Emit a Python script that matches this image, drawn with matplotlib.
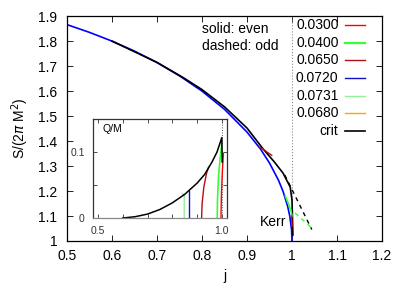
import matplotlib
matplotlib.use("Agg")
import matplotlib.pyplot as plt
import numpy as np

plt.rcParams['font.family'] = ['Liberation Sans', 'DejaVu Sans']

# main panel: S/(2 pi M^2) vs j
kerr_j = [0.5, 0.55, 0.6, 0.65, 0.7, 0.75, 0.8, 0.85, 0.9, 0.93, 0.95, 0.97, 0.98, 0.99, 0.995, 0.999, 1.0]
kerr_S = [1.866, 1.835, 1.800, 1.760, 1.714, 1.661, 1.600, 1.527, 1.436, 1.368, 1.312, 1.243, 1.199, 1.141, 1.100, 1.045, 1.0]

crit_j = [0.60, 0.70, 0.76, 0.80, 0.85, 0.90, 0.936, 0.96, 0.98, 0.996, 1.000, 1.002]
crit_S = [1.800, 1.715, 1.652, 1.606, 1.537, 1.452, 1.368, 1.318, 1.272, 1.216, 1.164, 1.024]

crit_odd_j = [0.984, 1.044]
crit_odd_S = [1.264, 1.046]

c065_j = [0.927, 0.935, 0.945, 0.955]
c065_S = [1.375, 1.369, 1.355, 1.343]

c040_j = [0.985, 0.992, 0.998, 1.0]
c040_S = [1.180, 1.150, 1.120, 1.100]
c040_odd_j = [1.007, 1.044]
c040_odd_S = [1.112, 1.052]

c030_j = [0.999, 1.0]
c030_S = [1.100, 1.060]

# inset: Q/M vs j
q_crit_j = [0.60, 0.65, 0.70, 0.75, 0.80, 0.85, 0.90, 0.93, 0.96, 0.98, 0.9995, 1.001]
q_crit_Q = [0.0, 0.002, 0.006, 0.013, 0.023, 0.036, 0.053, 0.066, 0.085, 0.100, 0.122, 0.085]
q_073_j = [0.848, 0.848, 0.840]
q_073_Q = [0.0, 0.035, 0.037]
q_072_j = [0.867, 0.867]
q_072_Q = [0.0, 0.041]
q_065_j = [0.918, 0.920, 0.927, 0.938, 0.946]
q_065_Q = [0.0, 0.022, 0.047, 0.068, 0.077]
q_040_j = [0.981, 0.982, 0.986, 0.993, 0.999]
q_040_Q = [0.0, 0.027, 0.062, 0.092, 0.112]
q_030_j = [0.996, 0.998, 1.002, 1.006]
q_030_Q = [0.0, 0.037, 0.073, 0.098]

labels = ['0.0300', '0.0400', '0.0650', '0.0720', '0.0731', '0.0680', 'crit']
colors = ['#ff0000', '#33ff33', '#b01010', '#1010c0', '#99ee99', '#ffa500', 'black']
widths = [1.0, 1.6, 1.0, 1.0, 1.0, 1.0, 1.2]

fig = plt.figure(figsize=(4.07, 2.85), dpi=100)
ax = fig.add_axes([0.1646, 0.1544, 0.774, 0.789])

ax.axvline(1.0, color='#888888', ls=':', lw=0.8)
ax.plot(kerr_j, kerr_S, color='#0000ff', lw=1.2)
ax.plot(crit_j, crit_S, color='black', lw=1.2)
ax.plot(crit_odd_j, crit_odd_S, color='black', lw=1.0, ls=(0, (3, 3)))
ax.plot(c065_j, c065_S, color=colors[2], lw=1.0)
ax.plot(c040_j, c040_S, color=colors[1], lw=1.2)
ax.plot(c040_odd_j, c040_odd_S, color=colors[1], lw=1.0, ls=(0, (3, 3)))
ax.plot(c030_j, c030_S, color=colors[0], lw=1.0)

ax.set_xlim(0.5, 1.2)
ax.set_ylim(1.0, 1.9)
ax.set_xticks(np.arange(0.5, 1.21, 0.1))
ax.set_xticklabels(['0.5', '0.6', '0.7', '0.8', '0.9', '1', '1.1', '1.2'])
ax.set_yticks(np.arange(1.0, 1.91, 0.1))
ax.set_yticklabels(['1', '1.1', '1.2', '1.3', '1.4', '1.5', '1.6', '1.7', '1.8', '1.9'])
ax.tick_params(direction='in', top=True, right=True, labelsize=10, length=4, width=0.6)
ax.tick_params(axis='x', pad=6)
ax.tick_params(axis='y', pad=7)
for s in ax.spines.values():
    s.set_linewidth(0.9)
ax.set_xlabel('j', fontsize=10)
ax.set_ylabel(r'S/(2$\pi$ M$^2$)', fontsize=10, labelpad=5)

ax.text(0.957, 1.076, 'Kerr', fontsize=10, ha='center', va='center')
ax.text(0.429, 0.942, 'solid: even', transform=ax.transAxes, fontsize=10, va='center')
ax.text(0.429, 0.867, 'dashed: odd', transform=ax.transAxes, fontsize=10, va='center')

# key, gnuplot style: label right-aligned, sample on the right
for i, (lab, c, w) in enumerate(zip(labels, colors, widths)):
    yk = 0.96 - i * 0.0785
    ax.text(0.862, yk, lab, transform=ax.transAxes, fontsize=10, ha='right', va='center')
    ax.plot([0.883, 0.946], [yk, yk], transform=ax.transAxes, color=c, lw=w)

# inset
ins = fig.add_axes([0.2285, 0.235, 0.329, 0.347])
ins.axvline(1.0, color='#555555', ls=':', lw=0.7)
ins.plot(q_073_j, q_073_Q, color=colors[4], lw=1.0)
ins.plot(q_072_j, q_072_Q, color=colors[3], lw=1.0)
ins.plot(q_065_j, q_065_Q, color=colors[2], lw=1.0)
ins.plot(q_040_j, q_040_Q, color=colors[1], lw=1.2)
ins.plot(q_030_j, q_030_Q, color=colors[0], lw=1.0)
ins.plot(q_crit_j, q_crit_Q, color='black', lw=1.1)
ins.set_xlim(0.48, 1.02)
ins.set_ylim(0, 0.15)
ins.set_xticks(np.arange(0.5, 1.01, 0.1))
ins.set_xticklabels(['0.5', '', '', '', '', '1.0'])
ins.set_yticks([0, 0.05, 0.1])
ins.set_yticklabels(['0', '', '0.1'])
ins.tick_params(direction='in', top=True, right=True, labelsize=7.5, length=3, width=0.6, colors='#333333')
ins.tick_params(axis='x', pad=6)
ins.tick_params(axis='y', pad=6)
for s in ins.spines.values():
    s.set_linewidth(0.9)
    s.set_color('#333333')
ins.spines['bottom'].set_color('#888888')
ins.text(0.07, 0.9, 'Q/M', transform=ins.transAxes, fontsize=7.5, va='center')

fig.savefig('out.png', dpi=100)
